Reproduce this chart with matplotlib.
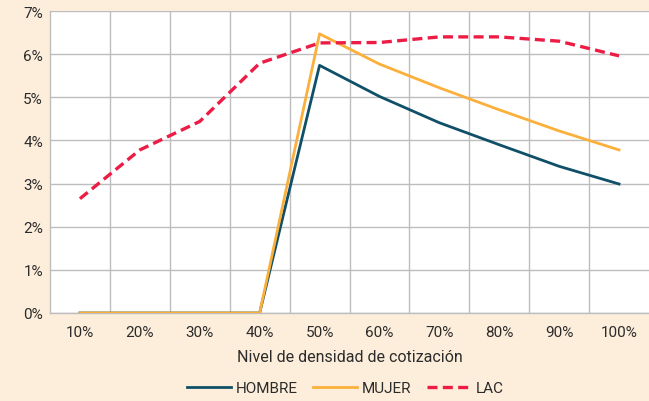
import matplotlib.pyplot as plt
import numpy as np
from matplotlib.ticker import FixedLocator

# data
categories = ["10%", "20%", "30%", "40%", "50%", "60%", "70%", "80%", "90%", "100%"]
hombre = [0.0, 0.0, 0.0, 0.0, 5.74, 5.02, 4.41, 3.90, 3.40, 2.99]
mujer = [0.0, 0.0, 0.0, 0.0, 6.47, 5.77, 5.22, 4.71, 4.22, 3.78]
lac = [2.65, 3.78, 4.44, 5.79, 6.26, 6.27, 6.40, 6.40, 6.30, 5.96]
y_ticks = [0, 1, 2, 3, 4, 5, 6, 7]

plt.rcParams["font.family"] = ["Roboto", "DejaVu Sans"]

BG = "#FDEEDB"
TXT = "#2b2b2b"
GRID = "#BDBDBD"

fig = plt.figure(figsize=(6.49, 4.02), dpi=100, facecolor=BG)
ax = fig.add_axes([50 / 649, 1 - 314 / 402, 599 / 649, 302 / 402])
ax.set_facecolor("white")

x = np.arange(len(categories))
ax.plot(x, hombre, color="#0F5068", lw=2.0, label="HOMBRE", zorder=3)
ax.plot(x, mujer, color="#FBB03B", lw=2.0, label="MUJER", zorder=3)
ax.plot(x, lac, color="#EC1C45", lw=2.4, ls=(0, (3, 1.6)), label="LAC", zorder=4)

ax.set_xlim(-0.5, len(categories) - 0.5)
ax.set_ylim(0, 7)
ax.set_xticks(x)
ax.set_xticklabels(categories)
ax.xaxis.set_minor_locator(FixedLocator(np.arange(0.5, len(categories) - 0.5, 1)))
ax.set_yticks(y_ticks)
ax.set_yticklabels([f"{v}%" for v in y_ticks])

ax.grid(axis="y", which="major", color=GRID, lw=1.0)
ax.grid(axis="x", which="minor", color=GRID, lw=1.0)
ax.set_axisbelow(True)
ax.tick_params(which="both", length=0, labelsize=11, colors=TXT)
ax.tick_params(axis="x", pad=9)
ax.tick_params(axis="y", pad=5)

for side in ["top", "right"]:
    ax.spines[side].set_visible(False)
for side in ["left", "bottom"]:
    ax.spines[side].set_color(GRID)
    ax.spines[side].set_linewidth(1.0)

ax.set_xlabel("Nivel de densidad de cotización", fontsize=11.5, color=TXT, labelpad=7)

leg = fig.legend(loc="center", bbox_to_anchor=(0.532, 1 - 389 / 402), ncol=3,
                 frameon=False, fontsize=11, handlelength=2.9, handletextpad=0.3,
                 columnspacing=1.0)
for t in leg.get_texts():
    t.set_color(TXT)

fig.savefig("out.png", dpi=100, facecolor=BG)
